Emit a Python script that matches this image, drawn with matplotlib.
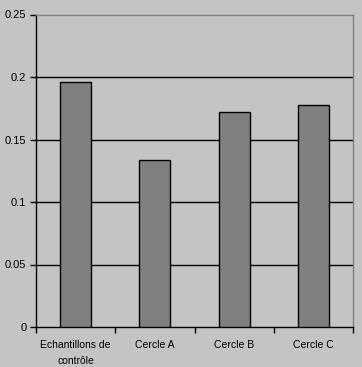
import numpy as np
import matplotlib.pyplot as plt

categories = ["Echantillons de\ncontrôle", "Cercle A", "Cercle B", "Cercle C"]
values = [0.196, 0.1335, 0.172, 0.178]
yticks = [0, 0.05, 0.1, 0.15, 0.2, 0.25]
ytick_labels = ["0", "0.05", "0.1", "0.15", "0.2", "0.25"]

bg = "#c4c4c4"
plt.rcParams['font.family'] = ['Liberation Sans', 'DejaVu Sans']

fig = plt.figure(figsize=(3.62, 3.67), dpi=100, facecolor=bg)
ax = fig.add_axes([36 / 362, 40 / 367, 317 / 362, 312.5 / 367])
ax.set_facecolor(bg)

x = np.arange(len(categories))
ax.bar(x, values, width=0.39, color="#808080", edgecolor="black", linewidth=1.0, zorder=3)

ax.set_xlim(-0.5, len(categories) - 0.5)
ax.set_ylim(0, 0.25)

# horizontal gridlines
for y in yticks[1:-1]:
    ax.axhline(y, color="black", linewidth=1.0, zorder=1)

ax.set_yticks(yticks)
ax.set_yticklabels(ytick_labels, fontsize=8)
ax.set_xticks(x)
ax.set_xticklabels(categories, fontsize=7.5, linespacing=1.75)
ax.set_xticks(np.arange(-0.5, len(categories)), minor=True)
ax.tick_params(axis="x", which="major", length=0, pad=9)
ax.tick_params(axis="x", which="minor", length=4, width=1, direction="out")
ax.tick_params(axis="y", length=4, width=1, direction="out", pad=3)

for side in ["left", "bottom"]:
    ax.spines[side].set_color("black")
    ax.spines[side].set_linewidth(1.0)
for side in ["top", "right"]:
    ax.spines[side].set_color("#808080")
    ax.spines[side].set_linewidth(1.0)

fig.savefig("out.png", dpi=100, facecolor=bg)
